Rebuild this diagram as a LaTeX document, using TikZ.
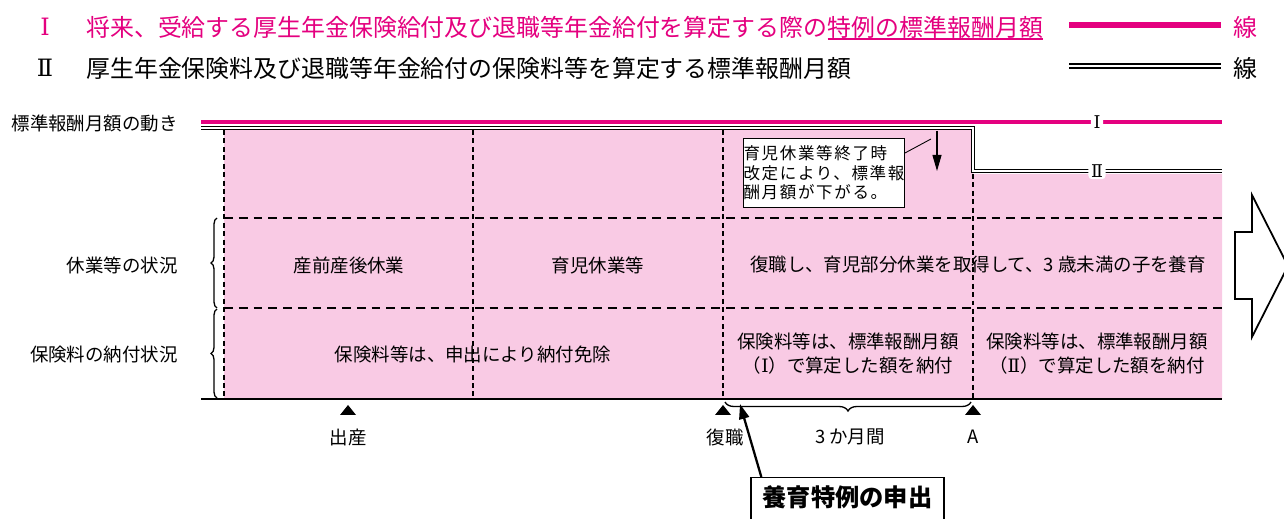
\documentclass[tikz,border=0pt]{standalone}
\usepackage{fontspec}
\setmainfont{Noto Sans CJK JP}
\newfontfamily\notefont[LetterSpace=10]{Noto Sans CJK JP}
\newfontfamily\romfont{DejaVu Serif}
\usetikzlibrary{arrows.meta,decorations.pathreplacing}
\definecolor{mag}{RGB}{228,0,127}
\definecolor{pinkbg}{RGB}{249,202,228}
\begin{document}
\begin{tikzpicture}[x=0.2mm,y=-0.2mm,
  big/.style={font=\fontsize{13.6pt}{16pt}\selectfont, inner sep=0},
  txt/.style={font=\fontsize{10.5pt}{13.7pt}\selectfont, inner sep=0, align=center},
  rowline/.style={line width=1.1pt, dash pattern=on 5pt off 3.4pt},
  colline/.style={line width=0.6pt, dash pattern=on 2.8pt off 2pt},
  dbl/.style={double=white, double distance=1.1pt, line width=0.8pt},
  numlbl/.style={font=\romfont\fontsize{10pt}{10pt}\selectfont, fill=white, inner xsep=1.5pt, inner ysep=1pt, rounded corners=2pt}]
\useasboundingbox (0,0) rectangle (1284,519);
\node [big, text=mag] (na) at (45,27) {\romfont Ⅰ};
\node [big, text=mag, anchor=west] (la) at (86,27) {将来、受給する厚生年金保険給付及び退職等年金給付を算定する際の};
\node [big, text=mag, anchor=west] (lu) at (la.east) {特例の標準報酬月額};
\draw [mag, line width=1.2pt] (lu.west |- 0,39) -- (lu.east |- 0,39);
\node [big, text=mag] (ka) at (1245,27) {線};
\draw [mag, line width=3.4pt] (1069,25) -- (1221,25);
\node [big] (nb) at (45,68) {\romfont Ⅱ};
\node [big, anchor=west] (lb) at (86,68) {厚生年金保険料及び退職等年金給付の保険料等を算定する標準報酬月額};
\node [big] (kb) at (1245,68) {線};
\draw [dbl, line width=0.9pt, double distance=1.6pt] (1069,66) -- (1221,66);

\fill [pinkbg] (224,130) -- (973,130) -- (973,174) -- (1222,174) -- (1222,399) -- (224,399) -- cycle;
\draw [rowline] (224,218) -- (1222,218);
\draw [rowline] (224,308) -- (1222,308);
\draw [colline] (224,130) -- (224,399);
\draw [colline] (473,130) -- (473,399);
\draw [colline] (723,130) -- (723,399);
\draw [colline] (973,174) -- (973,399);
\draw [line width=1.4pt] (201,399) -- (1222,399);
\draw [mag, line width=2.8pt] (201,122) -- (1222,122);
\draw [dbl] (201,128) -- (973,128) -- (973,171) -- (1222,171);
\node [numlbl] (ra) at (1097,122) {Ⅰ};
\node [numlbl] (rb) at (1097,171) {Ⅱ};

\node [txt, anchor=east] (hd) at (178,123) {標準報酬月額の動き};
\node [txt, anchor=east] (hb) at (178,265) {休業等の状況};
\node [txt, anchor=east] (hc) at (178,355) {保険料の納付状況};
\draw [decorate, decoration={brace, amplitude=1.2mm}, line width=0.75pt] (217,308) -- (217,218);
\draw [decorate, decoration={brace, amplitude=1.2mm}, line width=0.75pt] (217,398) -- (217,309);

\node [txt] (sa) at (349,265) {産前産後休業};
\node [txt] (sb) at (598,265) {育児休業等};
\node [txt] (sc) at (978,265) {復職し、育児部分休業を取得して、3 歳未満の子を養育};
\node [txt] (pa) at (473,354) {保険料等は、申出により納付免除};
\node [txt] (pb) at (848,354) {保険料等は、標準報酬月額\\（{\romfont Ⅰ}）で算定した額を納付};
\node [txt] (pc) at (1097,354) {保険料等は、標準報酬月額\\（{\romfont Ⅱ}）で算定した額を納付};

\node [draw, fill=white, line width=0.6pt, align=left, anchor=north west, minimum width=31.8mm, minimum height=13.8mm, inner sep=0, font=\notefont\fontsize{9.4pt}{11.1pt}\selectfont] (note) at (743,138) {育児休業等終了時\\改定により、標準報\\酬月額が下がる。};
\coordinate (tip) at (931,139);
\draw [line width=0.5pt] ([yshift=-3mm]note.north east) -- (tip);
\coordinate (dropa) at (937,131);
\coordinate (dropb) at (937,171);
\draw [-{Triangle[length=3.2mm,width=1.8mm]}, line width=0.6pt] (dropa) -- (dropb);

\coordinate (birth) at (348,405);
\coordinate (back) at (723,405);
\coordinate (pta) at (973,405);
\fill (birth) -- ++(8,10) -- ++(-16,0) -- cycle;
\fill (back) -- ++(8,10) -- ++(-16,0) -- cycle;
\fill (pta) -- ++(8,10) -- ++(-16,0) -- cycle;
\node [txt] (ba) at (348,437) {出産};
\node [txt] (bb) at (725,437) {復職};
\node [txt] (bc) at (850,437) {3 か月間};
\node [txt] (bd) at (973,437) {A};
\draw [decorate, decoration={brace, amplitude=1.8mm}, line width=0.75pt] (971,402) -- (725,402);

\node [draw, fill=white, line width=0.75pt, anchor=north, font=\fontsize{13.8pt}{16pt}\selectfont\bfseries, minimum width=38.6mm, text height=5.8mm, text depth=4mm, inner ysep=0] (apply) at (847.5,477) {養育特例の申出};
\coordinate (applypt) at (740,404);
\draw [-{Triangle[length=3mm,width=2mm]}, line width=1.3pt] ([xshift=2.2mm]apply.north west) -- (applypt);

\coordinate (go) at (1235,232);
\draw [line width=1pt, fill=white] (go) -- (1252,232) -- (1252,195) -- (1288,266) -- (1252,337) -- (1252,299) -- (1235,299) -- cycle;
\end{tikzpicture}
\end{document}
